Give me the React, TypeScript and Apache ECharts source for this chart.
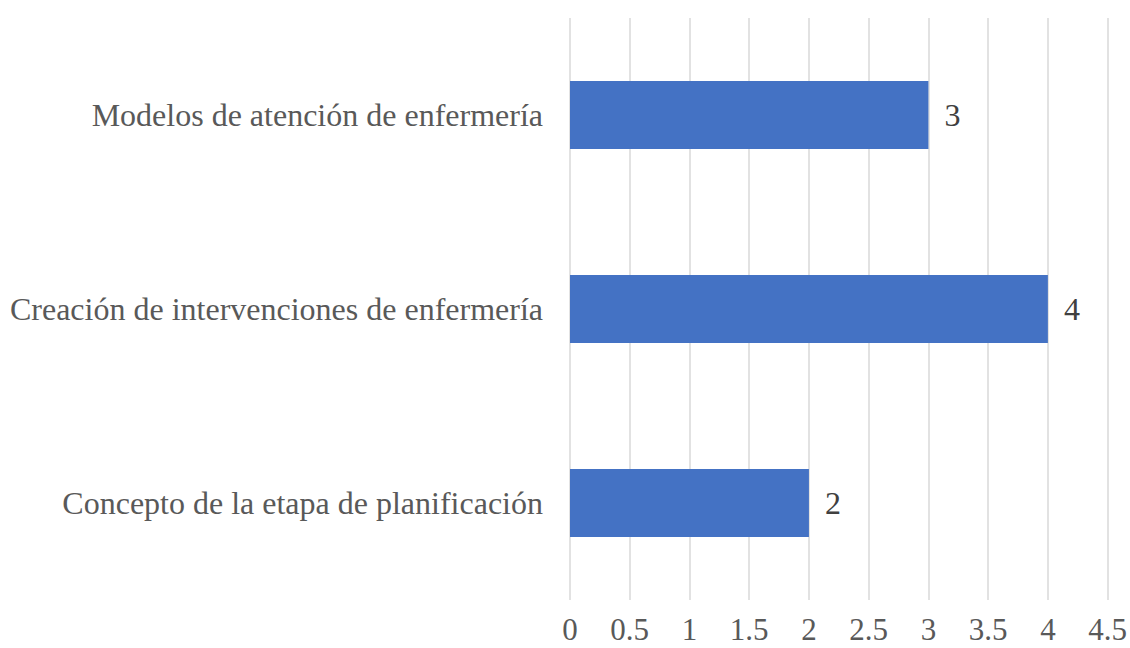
import React, { useEffect, useRef } from "react";
import * as echarts from "echarts";

const categories = [
  "Concepto de la etapa de planificación",
  "Creación de intervenciones de enfermería",
  "Modelos de atención de enfermería",
];
const values = [2, 4, 3];
const tickMin = 0;
const tickMax = 4.5;
const tickStep = 0.5;

export default function App() {
  const ref = useRef<HTMLDivElement>(null);
  useEffect(() => {
    if (!ref.current) return;
    const chart = echarts.init(ref.current, undefined, { renderer: "svg" });
    const font = "Liberation Serif";
    chart.setOption({
      animation: false,
      backgroundColor: "#ffffff",
      textStyle: { fontFamily: font },
      grid: { left: 570, right: 22, top: 18, bottom: 48, containLabel: false },
      xAxis: {
        type: "value",
        min: tickMin,
        max: tickMax,
        interval: tickStep,
        axisLine: { show: false },
        axisTick: { show: false },
        splitLine: { show: true, lineStyle: { color: "#d9d9d9", width: 1.5 } },
        axisLabel: {
          color: "#595959",
          fontFamily: font,
          fontSize: 31,
          lineHeight: 31,
          margin: 14,
          formatter: (v: number) => String(v),
        },
      },
      yAxis: {
        type: "category",
        data: categories,
        axisLine: { show: false },
        axisTick: { show: false },
        splitLine: { show: false },
        axisLabel: {
          color: "#595959",
          fontFamily: font,
          fontSize: 32,
          margin: 27,
        },
      },
      series: [
        {
          type: "bar",
          data: values,
          barCategoryGap: "65%",
          itemStyle: { color: "#4472c4" },
          label: {
            show: true,
            position: "right",
            distance: 16,
            color: "#404040",
            fontFamily: font,
            fontSize: 32,
          },
        },
      ],
    });
    return () => chart.dispose();
  }, []);
  return (
    <div
      ref={ref}
      style={{ position: "fixed", left: 0, top: 0, width: 1130, height: 648 }}
    />
  );
}
